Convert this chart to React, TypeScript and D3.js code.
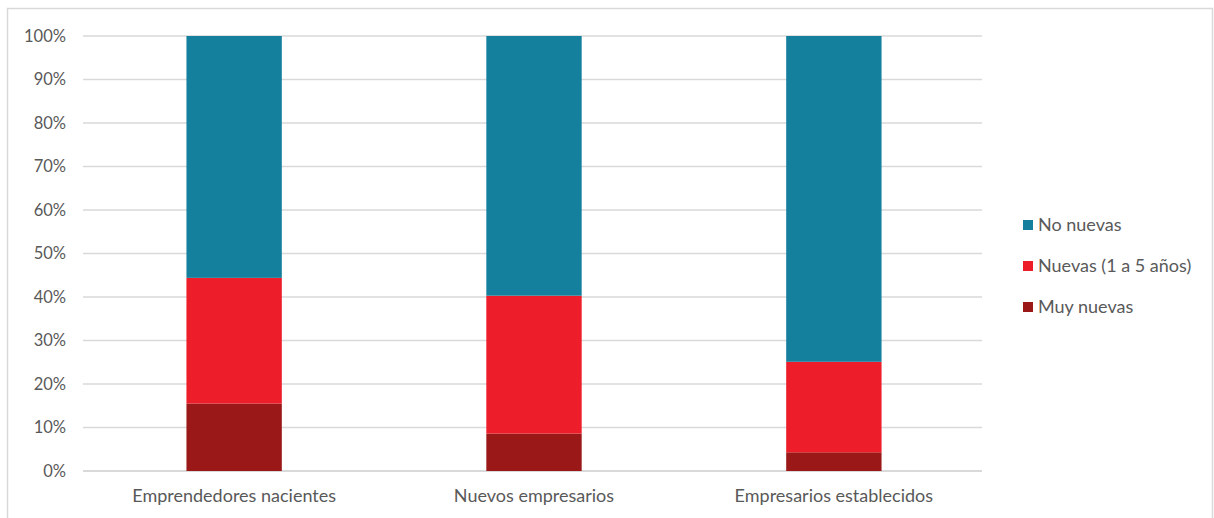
import React from "react";
import * as d3 from "d3";

const categories = ["Emprendedores nacientes", "Nuevos empresarios", "Empresarios establecidos"];
const seriesNames = ["Muy nuevas", "Nuevas (1 a 5 años)", "No nuevas"];
const muyNuevas = [15.5, 8.6, 4.3];
const nuevas = [28.9, 31.7, 20.8];
const noNuevas = [55.6, 59.7, 74.9];
const yTicks = [0, 10, 20, 30, 40, 50, 60, 70, 80, 90, 100];
const colors = ["#9B1818", "#ED1D29", "#15809E"];
const legendOrder = [2, 1, 0];

export default function App() {
  const W = 1214, H = 518;
  const left = 83, right = 985, top = 36, bottom = 471;
  const x = d3.scaleBand<string>().domain(categories).range([left, right]).paddingInner(0.682).paddingOuter(0.345);
  const y = d3.scaleLinear().domain([0, 100]).range([bottom, top]);
  const rows = categories.map((c, i) => ({ cat: c, m: muyNuevas[i], n: nuevas[i], o: noNuevas[i] }));
  const stack = d3.stack<any>().keys(["m", "n", "o"]);
  const series = stack(rows);
  const font = "Lato, 'Open Sans', sans-serif";
  const txt = "#595959";
  return (
    <svg width={W} height={H} style={{ position: "absolute", left: 0, top: 0 }} fontFamily={font}>
      <rect x={7.5} y={8.5} width={1205} height={520} fill="#fff" stroke="#D9D9D9" strokeWidth={1.5} />
      {yTicks.map((t) => (
        <g key={t}>
          <line x1={left} x2={982} y1={y(t)} y2={y(t)} stroke="#D9D9D9" strokeWidth={t === 0 ? 2 : 1.5} />
          <text x={66} y={y(t)} dy="0.35em" textAnchor="end" fontSize={16.5} fill={txt}>{t}%</text>
        </g>
      ))}
      {series.map((s, si) => (
        <g key={si} fill={colors[si]}>
          {s.map((d, i) => (
            <rect key={i} x={x(categories[i])!} width={x.bandwidth()} y={y(d[1])} height={y(d[0]) - y(d[1])} />
          ))}
        </g>
      ))}
      {categories.map((c) => (
        <text key={c} x={x(c)! + x.bandwidth() / 2} y={496} dy="0.35em" textAnchor="middle" fontSize={18} fill={txt}>{c}</text>
      ))}
      {legendOrder.map((si, k) => (
        <g key={si} transform={`translate(1023, ${225 + k * 41})`}>
          <rect x={0} y={-5} width={10} height={10} fill={colors[si]} />
          <text x={15} y={0} dy="0.35em" fontSize={18} fill={txt}>{seriesNames[si]}</text>
        </g>
      ))}
    </svg>
  );
}
